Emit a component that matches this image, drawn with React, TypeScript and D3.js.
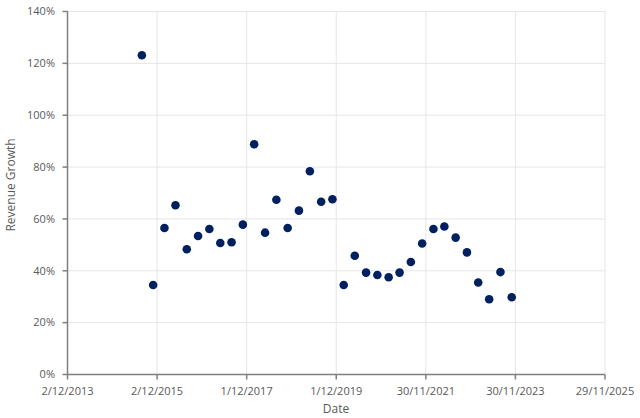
import React from "react";
import * as d3 from "d3";

const dates: string[] = [
  "2015-07-31", "2015-10-31", "2016-01-31", "2016-04-30", "2016-07-31", "2016-10-31",
  "2017-01-31", "2017-04-30", "2017-07-31", "2017-10-31", "2018-01-31", "2018-04-30",
  "2018-07-31", "2018-10-31", "2019-01-31", "2019-04-30", "2019-07-31", "2019-10-31",
  "2020-01-31", "2020-04-30", "2020-07-31", "2020-10-31", "2021-01-31", "2021-04-30",
  "2021-07-31", "2021-10-31", "2022-01-31", "2022-04-30", "2022-07-31", "2022-10-31",
  "2023-01-31", "2023-04-30", "2023-07-31", "2023-10-31",
];
const growth: number[] = [
  123.1, 34.5, 56.5, 65.3, 48.3, 53.4, 56.1, 50.7, 51.0, 57.8, 88.8, 54.7,
  67.4, 56.5, 63.2, 78.4, 66.6, 67.6, 34.5, 45.8, 39.3, 38.4, 37.5, 39.3,
  43.4, 50.5, 56.1, 57.1, 52.8, 47.1, 35.5, 29.0, 39.5, 29.8,
];
const xTickDates: string[] = [
  "2013-12-02", "2015-12-02", "2017-12-01", "2019-12-01", "2021-11-30", "2023-11-30", "2025-11-29",
];
const xTickLabels: string[] = [
  "2/12/2013", "2/12/2015", "1/12/2017", "1/12/2019", "30/11/2021", "30/11/2023", "29/11/2025",
];
const yTicks: number[] = [0, 20, 40, 60, 80, 100, 120, 140];

const W = 640;
const H = 418;
const left = 67.5;
const right = 605;
const top = 11.5;
const bottom = 374.5;
const FONT = "'Open Sans', sans-serif";
const TEXT = "#595959";

export default function App() {
  const parse = (s: string) => new Date(s + "T00:00:00Z");
  const x = d3.scaleUtc().domain([parse(xTickDates[0]), parse(xTickDates[xTickDates.length - 1])]).range([left, right]);
  const y = d3.scaleLinear().domain([0, 140]).range([bottom, top]);

  return (
    <svg
      width={W}
      height={H}
      style={{ position: "absolute", left: 0, top: 0, background: "#fff" }}
      fontFamily={FONT}
    >
      <rect x={0} y={0} width={W} height={H} fill="#fff" />
      {/* gridlines */}
      {yTicks.map((t) => (
        <line key={"gy" + t} x1={left} x2={right} y1={y(t)} y2={y(t)} stroke="#e6e6e6" strokeWidth={1} />
      ))}
      {xTickDates.map((d) => (
        <line key={"gx" + d} x1={x(parse(d))} x2={x(parse(d))} y1={top} y2={bottom} stroke="#e6e6e6" strokeWidth={1} />
      ))}
      {/* axes */}
      <line x1={left} x2={left} y1={top} y2={bottom} stroke="#7f7f7f" strokeWidth={1.5} />
      <line x1={left} x2={right} y1={bottom} y2={bottom} stroke="#7f7f7f" strokeWidth={1.5} />
      {yTicks.map((t) => (
        <g key={"ty" + t}>
          <line x1={left - 5} x2={left} y1={y(t)} y2={y(t)} stroke="#7f7f7f" strokeWidth={1.5} />
          <text x={55} y={y(t)} dy="0.35em" textAnchor="end" fontSize={11} fill={TEXT}>
            {t + "%"}
          </text>
        </g>
      ))}
      {xTickDates.map((d, i) => (
        <g key={"tx" + d}>
          <line x1={x(parse(d))} x2={x(parse(d))} y1={bottom} y2={bottom + 5} stroke="#7f7f7f" strokeWidth={1.5} />
          <text x={x(parse(d))} y={395} textAnchor="middle" fontSize={11} fill={TEXT}>
            {xTickLabels[i]}
          </text>
        </g>
      ))}
      {/* axis titles */}
      <text x={336} y={413} textAnchor="middle" fontSize={12} fill={TEXT}>
        Date
      </text>
      <text
        transform={`translate(15,${(top + bottom) / 2 - 8}) rotate(-90)`}
        textAnchor="middle"
        fontSize={12}
        fill={TEXT}
      >
        Revenue Growth
      </text>
      {/* points */}
      {dates.map((d, i) => (
        <circle key={d} cx={x(parse(d))} cy={y(growth[i])} r={4.3} fill="#002060" />
      ))}
    </svg>
  );
}
